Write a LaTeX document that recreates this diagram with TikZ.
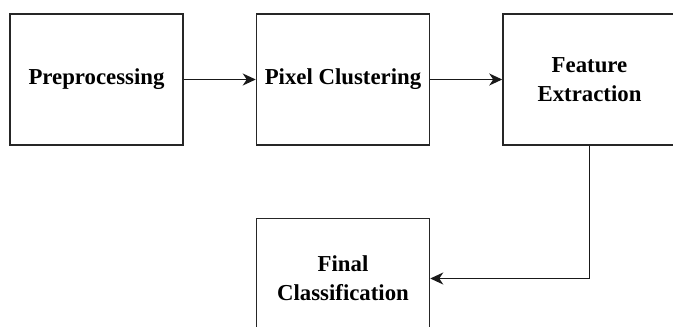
\documentclass[tikz,border=0pt]{standalone}
\usepackage{fontspec}
\setmainfont{Liberation Serif}
\usetikzlibrary{arrows.meta,positioning}

\begin{document}
\begin{tikzpicture}
	    \tikzstyle{stage}=[draw=black!85,line width=1.5pt,rectangle,minimum width=173pt,minimum height=131pt,inner sep=0pt,align=center,font=\fontsize{22.8}{29}\selectfont\bfseries]
	    \tikzstyle{link}=[-{Stealth[length=13pt,width=12pt,inset=4pt]},draw=black!90,line width=1.5pt]
	    
	    \useasboundingbox (0,0) rectangle (673pt,-327pt);
	    
	    \node[stage] (pre) at (96.5pt,-79.5pt) {Preprocessing};
	    \node[stage, right=72pt of pre] (clu) {Pixel Clustering};
	    \node[stage, right=72pt of clu] (fea) {Feature\\Extraction};
	    \node[stage, below=72pt of clu, minimum height=120pt] (cls) {Final\\Classification};
	    
	    \draw[link] (pre) -- (clu);
	    \draw[link] (clu) -- (fea);
	    \draw[link] (fea.south) |- (cls.east);
    
    \end{tikzpicture}
\end{document}
